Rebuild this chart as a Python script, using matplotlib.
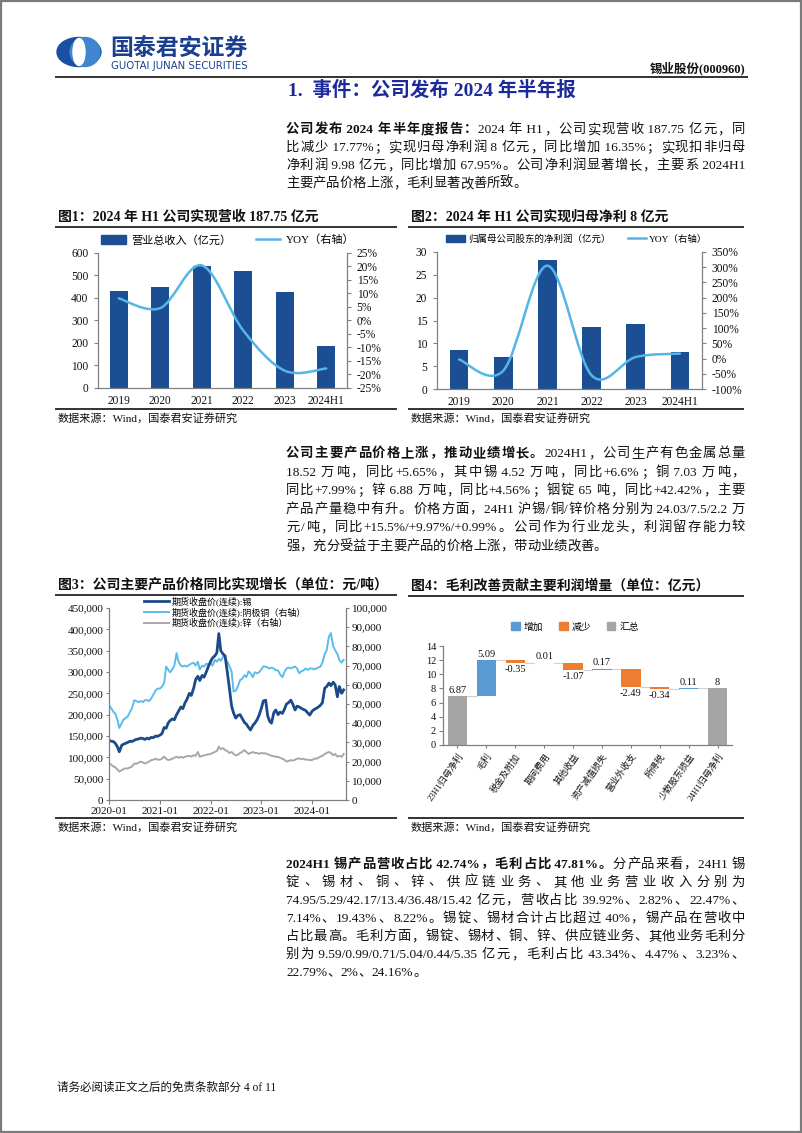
import numpy as np
import pandas as pd
import matplotlib
matplotlib.use('Agg')
import matplotlib.pyplot as plt
import matplotlib.dates as mdates
from matplotlib.path import Path
from matplotlib.patches import PathPatch, Rectangle, Ellipse
from matplotlib.lines import Line2D
from matplotlib.ticker import FuncFormatter, MultipleLocator

# ---- data ----
years = ['2019', '2020', '2021', '2022', '2023', '2024H1']
revenue = [430, 450, 542, 522, 425, 187.75]          # 亿元
revenue_yoy = [8.2, 4.6, 20.4, -3.7, -18.6, -17.77]  # %
net_profit = [8.6, 7.0, 28.2, 13.5, 14.2, 8.0]       # 亿元
net_profit_yoy = [-3, -40, 305, -55, 5, 16.35]       # %

# futures prices, semi-monthly readings 2020-01 .. 2024-08 (thousand yuan/ton)
tin_k = [140, 138, 137, 133, 125, 113, 128, 131, 133, 135, 138, 137,
         140, 142, 143, 145, 144, 142, 145, 143, 147, 146, 150, 149,
         152, 155, 170, 168, 180, 186, 190, 188, 200, 208, 218, 214,
         228, 236, 250, 245, 262, 282, 290, 280, 292, 288, 300, 312,
         325, 333, 338, 345, 390, 350, 342, 338, 300, 265, 220, 204,
         192, 198, 200, 192, 182, 178, 170, 164, 175, 180, 188, 198,
         215, 232, 234, 198, 185, 180, 205, 211, 200, 206, 203, 212,
         225, 228, 234, 225, 211, 220, 218, 215, 212, 210, 204, 199,
         208, 212, 215, 218, 222, 228, 262, 266, 274, 268, 276, 270,
         242, 266, 250, 258]
copper_k = [49.5, 48, 46, 45, 42, 37.5, 40, 42, 42.7, 43.5, 46, 48,
            52, 51.5, 51, 51.5, 51, 52, 52, 51.5, 53, 55, 57, 58,
            58, 59, 61, 69.5, 68, 66.5, 68, 70, 76.5, 72, 70, 69.5,
            70, 69.5, 70.5, 71, 71.5, 70, 72, 68, 70, 69.5, 71, 70.5,
            71.5, 70, 73, 72, 73.5, 72.5, 74.7, 74, 72, 70, 67, 56.5,
            57, 59, 62.5, 63, 65, 64, 67, 66, 64, 66.5, 66, 66.5,
            68, 69.5, 69.5, 69, 68.5, 69, 68.5, 67.5, 67.5, 65.5, 64, 66.5,
            68.5, 69, 68.5, 69, 69.5, 68.5, 66, 67, 67.5, 68.5, 67.7, 68.5,
            68.5, 68, 68.5, 69, 69.5, 71.5, 76, 78, 85, 87, 80, 78,
            76, 73, 71.5, 73]
zinc_k = [19.1, 18.5, 17.5, 17, 16, 14.8, 15.5, 16.2, 16.5, 16.4, 17, 17.5,
          19, 18.8, 19.5, 20, 19.5, 19, 19.5, 20, 20.8, 21, 21.5, 21,
          21, 21.5, 22.6, 21.5, 20.8, 21, 21.5, 22, 22.5, 22, 22.5, 22,
          22.5, 22.8, 23, 22.6, 23.3, 23, 25, 22.5, 23, 23.2, 23.5, 23.8,
          24, 24.5, 25, 25.5, 27.8, 26.5, 27, 26, 25.5, 24.5, 25, 24,
          23.3, 23.5, 24.5, 25, 26, 25, 24, 24.5, 25, 24.5, 24.5, 24,
          24.5, 24.3, 24.3, 23.8, 23.5, 23, 22.8, 22.5, 22.5, 22, 21.5, 21,
          20, 20.3, 20.8, 20.5, 21, 21.5, 21.7, 21.2, 21.5, 21, 21, 20.8,
          20.8, 21.5, 21.5, 22, 22.6, 23, 24, 24.5, 25, 24.5, 23.3, 24,
          22.6, 23, 22.5, 24]
price_dates = pd.date_range('2020-01-01', periods=len(tin_k), freq='SMS')

wf_labels = ['23H1归母净利', '毛利', '税金及附加', '期间费用', '其他收益',
             '资产减值损失', '营业外收支', '所得税', '少数股东损益', '24H1归母净利']
wf_values = [6.87, 5.09, -0.35, 0.01, -1.07, 0.17, -2.49, -0.34, 0.11, 8.0]

para1 = [[('公司发布 2024 年半年度报告：', True), ('2024 年 H1，公司实现营收 187.75 亿元，同', False)],
         '比减少 17.77%；实现归母净利润 8 亿元，同比增加 16.35%；实现扣非归母',
         '净利润 9.98 亿元，同比增加 67.95%。公司净利润显著增长，主要系 2024H1',
         '主要产品价格上涨，毛利显著改善所致。']
para2 = [[('公司主要产品价格上涨，推动业绩增长。', True), ('2024H1，公司生产有色金属总量', False)],
         '18.52 万吨，同比+5.65%，其中锡 4.52 万吨，同比+6.6%；铜 7.03 万吨，',
         '同比+7.99%；锌 6.88 万吨，同比+4.56%；铟锭 65 吨，同比+42.42%，主要',
         '产品产量稳中有升。价格方面，24H1 沪锡/铜/锌价格分别为 24.03/7.5/2.2 万',
         '元/吨，同比+15.5%/+9.97%/+0.99%。公司作为行业龙头，利润留存能力较',
         '强，充分受益于主要产品的价格上涨，带动业绩改善。']
para3 = [[('2024H1 锡产品营收占比 42.74%，毛利占比 47.81%。', True), ('分产品来看，24H1 锡', False)],
         '锭、锡材、铜、锌、供应链业务、其他业务营业收入分别为',
         '74.95/5.29/42.17/13.4/36.48/15.42 亿元，营收占比 39.92%、2.82%、22.47%、',
         '7.14%、19.43%、8.22%。锡锭、锡材合计占比超过 40%，锡产品在营收中',
         '占比最高。毛利方面，锡锭、锡材、铜、锌、供应链业务、其他业务毛利分',
         '别为 9.59/0.99/0.71/5.04/0.44/5.35 亿元，毛利占比 43.34%、4.47%、3.23%、',
         '22.79%、2%、24.16%。']

# ---- style ----
W, H = 802, 1133
plt.rcParams['font.family'] = ['Liberation Serif', 'Noto Sans CJK SC']
NAVY = '#1c4e94'
LBLUE = '#55b6e6'
SPINE = '#808080'
TXT = '#111111'
BODY = 9.6

fig = plt.figure(figsize=(W / 100, H / 100), dpi=100)
page = fig.add_axes([0, 0, 1, 1], zorder=-1)
page.set_xlim(0, W)
page.set_ylim(H, 0)
page.axis('off')


def add_axes(l, t, r, b):
    return fig.add_axes([l / W, 1 - b / H, (r - l) / W, (b - t) / H])


def hline(y, x0, x1, lw=1.3, color='#222222'):
    page.plot([x0, x1], [y, y], color=color, lw=lw, solid_capstyle='butt')


renderer = fig.canvas.get_renderer()
probe = page.text(0, 0, '')
_cache = {}


def adv(tok, bold, size):
    key = (tok, bold, size)
    if key not in _cache:
        probe.set_fontsize(size)
        probe.set_fontweight('bold' if bold else 'normal')
        probe.set_text('|' + tok + '|')
        w1 = probe.get_window_extent(renderer).width
        probe.set_text('||')
        w0 = probe.get_window_extent(renderer).width
        _cache[key] = w1 - w0
    return _cache[key]


def tokens(segs):
    out = []
    for s, b in segs:
        buf = ''
        for c in s:
            if ord(c) >= 0x2E80:
                if buf:
                    out.append((buf, b))
                    buf = ''
                out.append((c, b))
            else:
                buf += c
        if buf:
            out.append((buf, b))
    return out


def paragraph(lines, y0, dy, x0=286, x1=745, size=BODY):
    for i, line in enumerate(lines):
        segs = line if isinstance(line, list) else [(line, False)]
        toks = tokens(segs)
        ws = [adv(t, b, size) for t, b in toks]
        last = i == len(lines) - 1
        gap = 0 if last else (x1 - x0 - sum(ws)) / (len(toks) - 1)
        x = x0
        y = y0 + i * dy + 4.6
        for (t, b), w in zip(toks, ws):
            page.text(x, y, t, fontsize=size, fontweight='bold' if b else 'normal',
                      va='baseline', ha='left', color=TXT)
            x += w + gap


def smooth_line(ax, xs, ys, **kw):
    pts = np.column_stack([xs, ys]).astype(float)
    ext = np.vstack([pts[0], pts, pts[-1]])
    verts = [pts[0]]
    codes = [Path.MOVETO]
    for i in range(len(pts) - 1):
        p0, p1, p2, p3 = ext[i], ext[i + 1], ext[i + 2], ext[i + 3]
        verts += [p1 + (p2 - p0) / 6, p2 - (p3 - p1) / 6, p2]
        codes += [Path.CURVE4] * 3
    ax.add_patch(PathPatch(Path(verts, codes), fill=False, capstyle='round', **kw))


def style_axes(ax, spines=('left', 'bottom')):
    for s in ax.spines:
        ax.spines[s].set_visible(s in spines)
        ax.spines[s].set_color(SPINE)
        ax.spines[s].set_linewidth(0.9)


# ---- page header ----
page.add_patch(Rectangle((1, 1), W - 2, H - 2, fill=False, ec='#7a7a7a', lw=1.6))
page.add_patch(Ellipse((79, 52), 44, 29, color='#1a4ea0'))
page.add_patch(Ellipse((85, 52), 30, 29, color='#3f86cf'))
page.add_patch(Ellipse((79, 52), 12, 27, color='white'))
page.text(110, 56, '国泰君安证券', fontsize=16.5, fontweight='bold', color='#1a3f8f', va='baseline')
page.text(111, 69, 'GUOTAI JUNAN SECURITIES', fontsize=7.3, color='#1a3f8f',
          family='DejaVu Sans', va='baseline')
page.text(745, 72, '锡业股份(000960)', fontsize=9, fontweight='bold', ha='right', va='baseline', color=TXT)
hline(77, 55, 748)
page.text(288, 96, '1.  事件：公司发布 2024 年半年报', fontsize=14, fontweight='bold',
          color='#1d2a9c', va='baseline')
paragraph(para1, 128.5, 18)
paragraph(para2, 452.5, 18.5)
paragraph(para3, 863, 18.1)
page.text(57, 1091, '请务必阅读正文之后的免责条款部分 4 of 11', fontsize=8.3, color=TXT, va='baseline')

# chart frames (titles, rules, sources)
for x0, x1, yt, yb, title in [
        (55, 397, 227, 409, '图1：2024 年 H1 公司实现营收 187.75 亿元'),
        (408, 744, 227, 409, '图2：2024 年 H1 公司实现归母净利 8 亿元'),
        (55, 397, 595, 818, '图3：公司主要产品价格同比实现增长（单位：元/吨）'),
        (408, 744, 596, 818, '图4：毛利改善贡献主要利润增量（单位：亿元）')]:
    page.text(x0 + 3, yt - 6, title, fontsize=10, fontweight='bold', color=TXT, va='baseline')
    hline(yt, x0, x1)
    hline(yb, x0, x1)
    page.text(x0 + 3, yb + 13, '数据来源：Wind，国泰君安证券研究', fontsize=8, color=TXT, va='baseline')

probe.remove()

tick_kw = dict(labelsize=8.3, colors=SPINE, labelcolor=TXT, length=3, width=0.8)

# ---- chart 1 ----
ax1 = add_axes(98, 253, 347, 388)
x = np.arange(len(years))
ax1.bar(x, revenue, width=0.44, color=NAVY)
ax1.set_xlim(-0.5, 5.5)
ax1.set_ylim(0, 600)
ax1.yaxis.set_major_locator(MultipleLocator(100))
ax1.set_xticks(x, years)
style_axes(ax1)
ax1.tick_params(axis='y', pad=4, **tick_kw)
ax1.tick_params(axis='x', pad=5, **{**tick_kw, 'length': 0})
ax1r = ax1.twinx()
ax1r.set_ylim(-25, 25)
ax1r.yaxis.set_major_locator(MultipleLocator(5))
ax1r.yaxis.set_major_formatter(FuncFormatter(lambda v, p: f'{v:.0f}%'))
style_axes(ax1r, ('right',))
ax1r.tick_params(axis='y', pad=4, **tick_kw)
smooth_line(ax1r, x, revenue_yoy, color=LBLUE, lw=1.8)
fig.legend([Rectangle((0, 0), 1, 1, color=NAVY), Line2D([], [], color=LBLUE, lw=1.8)],
           ['营业总收入（亿元）', 'YOY（右轴）'], ncol=2, loc='center',
           bbox_to_anchor=(228 / W, 1 - 240 / H), frameon=False, fontsize=8,
           handlelength=2.2, handleheight=0.75, columnspacing=2.2, handletextpad=0.5,
           borderpad=0, borderaxespad=0)

# ---- chart 2 ----
ax2 = add_axes(437, 252, 702, 389)
ax2.bar(x, net_profit, width=0.42, color=NAVY)
ax2.set_xlim(-0.5, 5.5)
ax2.set_ylim(0, 30)
ax2.yaxis.set_major_locator(MultipleLocator(5))
ax2.set_xticks(x, years)
style_axes(ax2)
ax2.tick_params(axis='y', pad=4, **tick_kw)
ax2.tick_params(axis='x', pad=5, **{**tick_kw, 'length': 0})
ax2r = ax2.twinx()
ax2r.set_ylim(-100, 350)
ax2r.yaxis.set_major_locator(MultipleLocator(50))
ax2r.yaxis.set_major_formatter(FuncFormatter(lambda v, p: f'{v:.0f}%'))
style_axes(ax2r, ('right',))
ax2r.tick_params(axis='y', pad=4, **tick_kw)
smooth_line(ax2r, x, net_profit_yoy, color=LBLUE, lw=1.8)
fig.legend([Rectangle((0, 0), 1, 1, color=NAVY), Line2D([], [], color=LBLUE, lw=1.8)],
           ['归属母公司股东的净利润（亿元）', 'YOY（右轴）'], ncol=2, loc='center',
           bbox_to_anchor=(577 / W, 1 - 239 / H), frameon=False, fontsize=6.8,
           handlelength=2.0, handleheight=0.75, columnspacing=1.8, handletextpad=0.3,
           borderpad=0, borderaxespad=0)

# ---- chart 3 ----
ax3 = add_axes(109, 608, 346, 800)
ax3r = ax3.twinx()
ax3r.plot(price_dates, np.array(copper_k) * 1000, color='#5bbcec', lw=1.4)
ax3r.plot(price_dates, np.array(zinc_k) * 1000, color='#a8a8a8', lw=1.4)
ax3.plot(price_dates, np.array(tin_k) * 1000, color='#1b4a8a', lw=2.0)
ax3.set_zorder(ax3r.get_zorder() + 1)
ax3.patch.set_visible(False)
ax3.set_xlim(pd.Timestamp('2020-01-01'), pd.Timestamp('2024-09-01'))
ax3.set_ylim(0, 450000)
ax3r.set_ylim(0, 100000)
ax3.yaxis.set_major_locator(MultipleLocator(50000))
ax3r.yaxis.set_major_locator(MultipleLocator(10000))
comma = FuncFormatter(lambda v, p: f'{v:,.0f}')
ax3.yaxis.set_major_formatter(comma)
ax3r.yaxis.set_major_formatter(comma)
ax3.xaxis.set_major_locator(mdates.YearLocator())
ax3.xaxis.set_major_formatter(mdates.DateFormatter('%Y-%m'))
style_axes(ax3)
style_axes(ax3r, ('right',))
ax3.tick_params(axis='y', pad=2, **{**tick_kw, 'labelsize': 8, 'length': 2})
ax3.tick_params(axis='x', pad=2, **{**tick_kw, 'labelsize': 8, 'length': 3})
ax3r.tick_params(axis='y', pad=2, **{**tick_kw, 'labelsize': 8, 'length': 2})
fig.legend([Line2D([], [], color='#1b4a8a', lw=2.0), Line2D([], [], color='#5bbcec', lw=1.4),
            Line2D([], [], color='#a8a8a8', lw=1.4)],
           ['期货收盘价(连续):锡', '期货收盘价(连续):阴极铜（右轴）', '期货收盘价(连续):锌（右轴）'],
           loc='upper left', bbox_to_anchor=(144 / W, 1 - 596 / H), frameon=False, fontsize=6.5,
           handlelength=2.8, handletextpad=0.3, labelspacing=0.1, borderpad=0, borderaxespad=0)

# ---- chart 4 (waterfall) ----
ax4 = add_axes(443, 646, 732, 745)
n = len(wf_values)
cum = 0.0
levels = []
for i, v in enumerate(wf_values):
    if i == 0 or i == n - 1:
        ax4.bar(i, v, width=0.67, color='#a5a5a5')
        ax4.text(i, v + 0.25, f'{v:g}', ha='center', va='bottom', fontsize=7.5, color=TXT)
        cum = v
    else:
        bottom = cum if v >= 0 else cum + v
        ax4.bar(i, abs(v), bottom=bottom, width=0.67, color='#5b9bd5' if v >= 0 else '#ed7d31')
        if v >= 0:
            ax4.text(i, cum + v + 0.25, f'{v:g}', ha='center', va='bottom', fontsize=7.5, color=TXT)
        else:
            ax4.text(i, cum + v - 0.25, f'{v:g}', ha='center', va='top', fontsize=7.5, color=TXT)
        cum += v
    levels.append(cum)
for i in range(n - 1):
    ax4.plot([i + 0.335, i + 1 - 0.335], [levels[i], levels[i]], color='#d0d0d0', lw=0.8, zorder=0)
ax4.set_xlim(-0.5, n - 0.5)
ax4.set_ylim(0, 14)
ax4.yaxis.set_major_locator(MultipleLocator(2))
ax4.set_xticks(range(n))
ax4.set_xticklabels(wf_labels, rotation=55, ha='right', va='top', rotation_mode='anchor', fontsize=6.5)
style_axes(ax4)
ax4.tick_params(axis='y', pad=2, **{**tick_kw, 'labelsize': 7.5})
ax4.tick_params(axis='x', pad=3, **{**tick_kw, 'labelsize': 6.5, 'length': 2})
fig.legend([Rectangle((0, 0), 1, 1, color=c) for c in ('#5b9bd5', '#ed7d31', '#a5a5a5')],
           ['增加', '减少', '汇总'], ncol=3, loc='center', bbox_to_anchor=(575 / W, 1 - 627 / H),
           frameon=False, fontsize=7, handlelength=0.9, handleheight=0.9, handletextpad=0.4,
           columnspacing=1.6, borderpad=0, borderaxespad=0)

fig.savefig('out.png', dpi=100)
